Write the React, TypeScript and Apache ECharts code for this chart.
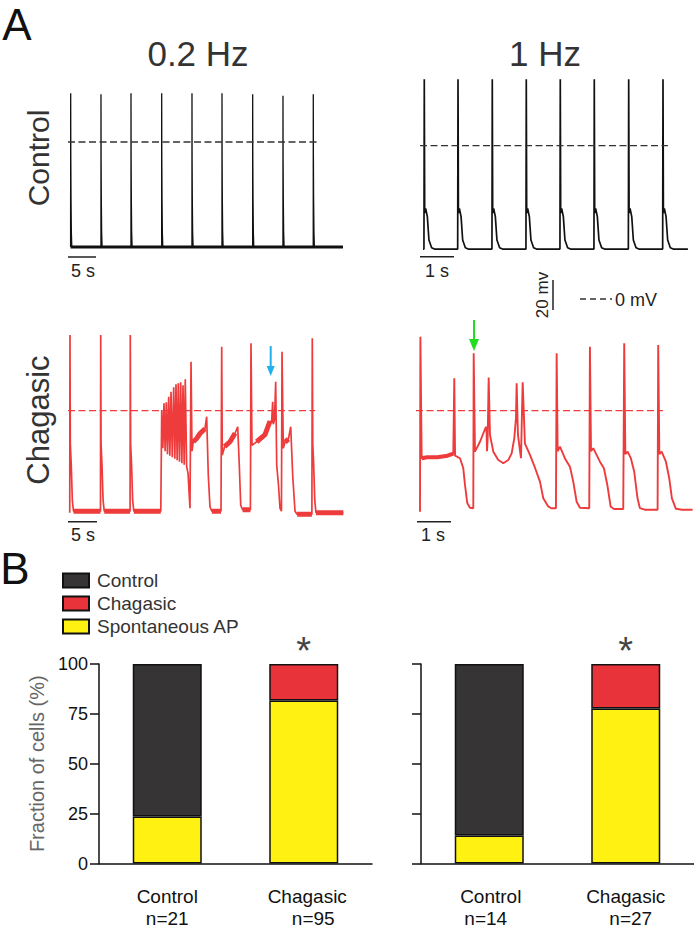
import React, { useEffect, useRef } from "react";
import * as echarts from "echarts";

const FONT = "'Liberation Sans', Arial, Helvetica, sans-serif";
const RED = "#ee3b3b";
const INK = "#222222";

// ---------------- Panel A: traces (time in s, membrane potential in mV)
// Control, 0.2 Hz
const ctrl02SpikeTimes = [0.48, 5.89, 11.25, 16.73, 22.14, 27.5, 32.98, 38.39, 43.8];
const ctrl02SpikePeaks = [32.5, 31.8, 32.5, 32.5, 32.5, 32.5, 31.8, 30.9, 31.8];
const ctrl02Rest = -70;
const ctrl02Repol = [[0.02, -10], [0.06, -38], [0.12, -60], [0.2, -70]];
const ctrl02Span = [0.46, 49.1];
const ctrl02Zero = [0, 44.5];
const ctrl02Bar = [0, 5, -76.7];

// Control, 1 Hz
const ctrl1SpikeTimes = [0.126, 1.118, 2.126, 3.126, 4.126, 5.126, 6.138, 7.147];
const ctrl1SpikePeaks = [44.3, 44.3, 44.3, 44.3, 44.3, 44.3, 44.3, 44.3];
const ctrl1Rest = -68.9;
const ctrl1Repol = [[0.012, -45], [0.04, -41.8], [0.09, -47.3], [0.137, -62.9], [0.216, -68], [0.3, -68.9]];
const ctrl1Span = [0.09, 7.88];
const ctrl1Zero = [0, 7.29];
const ctrl1Bar = [0, 1, -74];

// Chagasic, 0.2 Hz
const chag02Trace = [
  [0.3, -68], [0.34, 50.5], [0.4, -22], [0.55, -35], [0.75, -60], [0.95, -67],
  [5.6, -67], [5.64, 50.5], [5.7, -22], [5.85, -35], [6.05, -60], [6.25, -67],
  [10.7, -67], [10.74, 50.5], [10.8, -22], [10.95, -35], [11.15, -60], [11.35, -67],
  [16.0, -67], [16.16, 0.5], [16.35, -25], [16.55, 4.9], [16.75, -27], [16.95, 5.6], [17.15, -29],
  [17.36, 9.3], [17.56, -30], [17.76, 12.7], [17.98, -31], [18.22, 15.6], [18.42, -32], [18.62, 17.6],
  [18.82, -33], [19.02, 18.3], [19.22, -34], [19.43, 18.9], [19.63, -35], [19.83, 17], [20.03, -36],
  [20.22, 20.9], [20.45, -37], [20.7, -42], [21.03, -65], [21.21, 32.7], [21.38, -27], [21.6, -20.7],
  [22.19, -18.5], [22.76, -15.2], [23.62, -12], [23.91, -4], [24.19, -43], [24.48, -64], [24.8, -67],
  [26.38, -67], [26.5, 42.7], [26.6, -29.5], [27.0, -24], [27.93, -20.7], [28.8, -15], [29.26, -10.7],
  [29.53, -36], [29.78, -63], [30.1, -66],
  [31.45, -66], [31.55, 45], [31.72, -23], [32.53, -20.7], [33.97, -16], [34.83, -7], [35.1, -8],
  [35.29, 6], [35.4, -9], [35.6, -6], [35.81, 19.3], [35.98, -36], [36.3, -50], [36.55, -65], [36.8, -67],
  [36.9, 39.3], [37.12, -25], [37.41, -21], [38.0, -19], [38.4, -10.7], [38.74, -43], [39.14, -67], [39.5, -69],
  [42.05, -69], [42.12, 48.3], [42.2, -22], [42.35, -35], [42.55, -60], [42.75, -68], [47.47, -68],
];
const chag02Noisy = [[0.95, 5.6], [6.25, 10.7], [11.35, 16.0], [21.6, 23.62], [24.8, 26.38], [27.0, 28.8],
  [30.1, 31.45], [32.53, 34.83], [37.41, 38.0], [39.5, 42.05], [42.75, 47.47]];
const chag02Zero = [0, 42.6];
const chag02Bar = [0, 5, -74];

// Chagasic, 1 Hz
const chag1Trace = [
  [0.088, -67.3], [0.1, 49.3], [0.138, -31.7], [0.3, -31], [0.6, -31], [0.9, -30], [1.068, -28.6],
  [1.097, 21.6], [1.12, -30], [1.265, -31.7], [1.362, -38.4], [1.412, -49.5], [1.479, -61.6], [1.559, -64.7],
  [1.656, -65], [1.668, 38.3], [1.706, -27.3], [1.853, -20.7], [2.029, -10.7], [2.045, -12], [2.06, -27],
  [2.08, -18], [2.109, 22.2], [2.147, -16.2], [2.245, -27.3], [2.392, -32.9], [2.54, -35], [2.686, -32.9],
  [2.785, -28.4], [2.862, -18.4], [2.912, -5], [2.932, 18.3], [2.97, -16], [3.059, -31.7], [3.109, 18.9],
  [3.176, -22], [3.324, -29.5], [3.471, -38], [3.618, -47.3], [3.715, -58.4], [3.862, -63.8], [3.95, -65],
  [4.088, -65], [4.109, 38.3], [4.138, -27], [4.206, -24], [4.353, -31.8], [4.5, -37.3], [4.597, -47.3],
  [4.697, -60.7], [4.794, -64.7], [5.068, -65], [5.088, 42.7], [5.12, -27], [5.185, -25], [5.382, -34],
  [5.5, -38.4], [5.6, -49.5], [5.697, -64], [5.8, -65.5], [6.068, -65.5], [6.097, 45], [6.13, -29],
  [6.197, -27.3], [6.294, -31.8], [6.391, -40.7], [6.488, -58.4], [6.559, -65], [6.7, -66], [7.079, -66],
  [7.097, 43.8], [7.13, -29], [7.197, -27.3], [7.324, -34], [7.421, -45], [7.5, -58.4], [7.618, -65.4],
  [7.8, -66], [8.109, -66],
];
const chag1Noisy = [[0.138, 1.068]];
const chag1Zero = [-0.03, 7.235];
const chag1Bar = [0, 1, -74];

// ---------------- Panel B: fraction of cells (%)
const groupLabels = ["Control", "Chagasic"];
const nLeft = [21, 95];
const nRight = [14, 27];
const spontLeft = [23.5, 81.7];
const controlLeft = [76.5, null];
const chagasicLeft = [null, 18.3];
const spontRight = [14, 77.7];
const controlRight = [86, null];
const chagasicRight = [null, 22.3];
const fractionTicks = [0, 100, 25];

function spikeTrain(span: number[], rest: number, times: number[], peaks: number[], repol: number[][]) {
  const pts: number[][] = [[span[0], rest]];
  times.forEach((t, i) => {
    pts.push([t - 0.01, rest]);
    pts.push([t, peaks[i]]);
    repol.forEach(([dt, v]) => pts.push([t + dt, v]));
  });
  pts.push([span[1], rest]);
  return pts;
}

const pick = (trace: number[][], wins: number[][]) =>
  wins.map(([a, b]) => trace.filter(([t]) => t >= a && t <= b));

export default function App() {
  const ref = useRef<HTMLDivElement>(null);
  useEffect(() => {
    document.body.style.margin = "0";
    if (!ref.current) return;
    const chart = echarts.init(ref.current, undefined, { renderer: "svg" });

    const ctrl02 = spikeTrain(ctrl02Span, ctrl02Rest, ctrl02SpikeTimes, ctrl02SpikePeaks, ctrl02Repol);
    const ctrl1 = spikeTrain(ctrl1Span, ctrl1Rest, ctrl1SpikeTimes, ctrl1SpikePeaks, ctrl1Repol);

    const line = (gi: number, data: any[], color: string, width: number, extra: any = {}) => ({
      type: "line",
      xAxisIndex: gi,
      yAxisIndex: gi,
      data,
      showSymbol: false,
      symbol: "none",
      silent: true,
      lineStyle: { color, width, ...extra },
      z: 3,
    });

    const dashed = (gi: number, span: number[], color: string) =>
      line(gi, [[span[0], 0], [span[1], 0]], color, 1.3, { type: [7, 3.5] });
    const bar = (gi: number, b: number[]) => line(gi, [[b[0], b[2]], [b[1], b[2]]], INK, 1.5);

    const traceSeries: any[] = [
      line(0, [[ctrl02Span[0], ctrl02Rest], [ctrl02Span[1], ctrl02Rest]], "#111", 3),
      line(0, ctrl02, "#111", 1.3),
      dashed(0, ctrl02Zero, "#333"),
      bar(0, ctrl02Bar),
      line(1, ctrl1, "#111", 1.7),
      dashed(1, ctrl1Zero, "#333"),
      bar(1, ctrl1Bar),
      ...pick(chag02Trace, chag02Noisy).map((d) => line(2, d, RED, 5)),
      line(2, chag02Trace, RED, 1.7),
      dashed(2, chag02Zero, RED),
      bar(2, chag02Bar),
      ...pick(chag1Trace, chag1Noisy).map((d) => line(3, d, RED, 4)),
      line(3, chag1Trace, RED, 1.9),
      dashed(3, chag1Zero, RED),
      bar(3, chag1Bar),
    ];

    const traceGrids = [
      { left: 68, top: 82, width: 280, height: 195, x: [0, 50], y: [-90, 40] },
      { left: 416.6, top: 70.7, width: 275.4, height: 195, x: [-0.1, 8.0], y: [-80, 50] },
      { left: 68, top: 328.2, width: 278.4, height: 202.5, x: [0, 48], y: [-80, 55] },
      { left: 413.6, top: 328.2, width: 280.5, height: 202.5, x: [-0.1, 8.15], y: [-80, 55] },
    ];

    const axisLineStyle = { color: "#111", width: 1.5 };
    const richBase = { fontSize: 19, color: "#111", lineHeight: 22, fontFamily: FONT };
    const catLabel = (nArr: number[], side: "L" | "R") => ({
      margin: 22,
      interval: 0,
      formatter: (v: string, i: number) => {
        if (side === "L") return i === 0 ? `{c|${v}}\n{c|n=${nArr[i]}}` : `{c7|${v}}\n{n19|n=${nArr[i]}}`;
        return i === 0 ? `{c3|${v}}\n{m7|n=${nArr[i]}}` : `{c|${v}}\n{n10|n=${nArr[i]}}`;
      },
      rich: {
        c: { ...richBase },
        c7: { ...richBase, padding: [0, 0, 0, 7] },
        c3: { ...richBase, padding: [0, 0, 0, 3] },
        n19: { ...richBase, padding: [0, 0, 0, 19] },
        n10: { ...richBase, padding: [0, 0, 0, 10] },
        m7: { ...richBase, padding: [0, 7, 0, 0] },
      },
    });

    const catAxis = (gi: number, nArr: number[], side: "L" | "R") => ({
      gridIndex: gi,
      type: "category",
      data: groupLabels,
      axisLine: { lineStyle: axisLineStyle },
      axisTick: { alignWithLabel: true, length: 10, lineStyle: axisLineStyle },
      axisLabel: catLabel(nArr, side),
    });
    const valAxis = (gi: number, showLabels: boolean) => ({
      gridIndex: gi,
      type: "value",
      min: fractionTicks[0],
      max: fractionTicks[1],
      interval: fractionTicks[2],
      axisLine: { show: true, lineStyle: axisLineStyle },
      axisTick: { show: true, length: 9, lineStyle: axisLineStyle },
      axisLabel: { show: showLabels, fontSize: 18, color: "#111", margin: 11, fontFamily: FONT },
      splitLine: { show: false },
      name: showLabels ? "Fraction of cells (%)" : "",
      nameLocation: "middle",
      nameGap: 52,
      nameTextStyle: { fontSize: 20, color: "#666", fontFamily: FONT },
    });

    const barStyle = (color: string) => ({ color, borderColor: "#111", borderWidth: 1.5 });
    const starLabel = {
      show: true,
      position: "top",
      formatter: "*",
      distance: -6,
      fontSize: 38,
      color: "#444",
      fontFamily: FONT,
    };
    const barSeries = (gi: number, sp: any[], co: any[], ch: any[]) => [
      { type: "bar", name: "Spontaneous AP", xAxisIndex: gi, yAxisIndex: gi, stack: "s" + gi, barWidth: 69, data: sp, itemStyle: barStyle("#fff212") },
      { type: "bar", name: "Control", xAxisIndex: gi, yAxisIndex: gi, stack: "s" + gi, barWidth: 69, data: co, itemStyle: barStyle("#363435") },
      { type: "bar", name: "Chagasic", xAxisIndex: gi, yAxisIndex: gi, stack: "s" + gi, barWidth: 69, data: ch, itemStyle: barStyle("#e8333a"), label: starLabel },
    ];

    const txt = (text: string, x: number, y: number, size: number, fill: string, rot = 0, align = "center") => ({
      type: "text",
      x,
      y,
      rotation: rot,
      silent: true,
      style: { text, fill, fontSize: size, fontFamily: FONT, align, verticalAlign: "middle" },
    });
    const arrow = (x: number, y0: number, y1: number, head: number, hw: number, color: string) => [
      { type: "line", silent: true, shape: { x1: x, y1: y0, x2: x, y2: y1 - head + 1 }, style: { stroke: color, lineWidth: 2 } },
      { type: "polygon", silent: true, shape: { points: [[x - hw, y1 - head], [x + hw, y1 - head], [x, y1]] }, style: { fill: color } },
    ];

    const option: any = {
      animation: false,
      backgroundColor: "#ffffff",
      textStyle: { fontFamily: FONT },
      grid: [
        ...traceGrids.map((g) => ({ left: g.left, top: g.top, width: g.width, height: g.height })),
        { left: 99, top: 664, width: 273, height: 201 },
        { left: 421, top: 664, width: 273, height: 200 },
      ],
      xAxis: [
        ...traceGrids.map((g, i) => ({ gridIndex: i, type: "value", min: g.x[0], max: g.x[1], show: false })),
        catAxis(4, nLeft, "L"),
        catAxis(5, nRight, "R"),
      ],
      yAxis: [
        ...traceGrids.map((g, i) => ({ gridIndex: i, type: "value", min: g.y[0], max: g.y[1], show: false })),
        valAxis(4, true),
        valAxis(5, false),
      ],
      legend: {
        data: ["Control", "Chagasic", "Spontaneous AP"],
        orient: "vertical",
        left: 57,
        top: 566,
        itemWidth: 26,
        itemHeight: 14,
        itemGap: 4,
        icon: "rect",
        selectedMode: false,
        textStyle: { fontSize: 19, color: "#333", fontFamily: FONT, padding: [0, 0, 0, 3] },
      },
      series: [
        ...traceSeries,
        ...barSeries(4, spontLeft, controlLeft, chagasicLeft),
        ...barSeries(5, spontRight, controlRight, chagasicRight),
      ],
      graphic: [
        txt("A", 17, 24, 44, "#111"),
        txt("B", 15, 568, 44, "#111"),
        txt("0.2 Hz", 198, 53, 35, "#333"),
        txt("1 Hz", 545, 53, 35, "#333"),
        txt("Control", 38, 158, 30, "#333", Math.PI / 2),
        txt("Chagasic", 38, 420, 31, "#333", Math.PI / 2),
        txt("5 s", 83, 271, 18, "#222"),
        txt("1 s", 437, 271, 18, "#222"),
        txt("5 s", 83, 535, 18, "#222"),
        txt("1 s", 433, 535, 18, "#222"),
        txt("20 mv", 542, 295, 17, "#222", Math.PI / 2),
        { type: "line", silent: true, shape: { x1: 553, y1: 280, x2: 553, y2: 310 }, style: { stroke: INK, lineWidth: 1.5 } },
        { type: "line", silent: true, shape: { x1: 580, y1: 299, x2: 612, y2: 299 }, style: { stroke: "#333", lineWidth: 1.3, lineDash: [6, 4] } },
        txt("0 mV", 615, 300, 18, "#222", 0, "left"),
        ...arrow(270.7, 346, 376, 10, 4, "#1fb0ee"),
        ...arrow(474, 320, 351, 12, 5, "#22dd22"),
      ],
    };
    chart.setOption(option);
    return () => chart.dispose();
  }, []);
  return <div ref={ref} style={{ width: 694, height: 928 }} />;
}
